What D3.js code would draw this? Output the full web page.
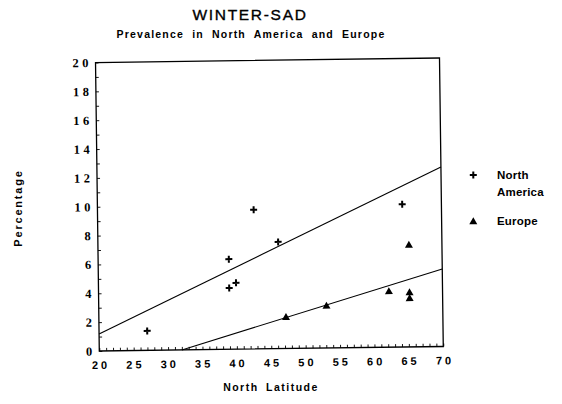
<!DOCTYPE html>
<html>
<head>
<meta charset="utf-8">
<script src="https://cdn.jsdelivr.net/npm/d3@7/dist/d3.min.js"></script>
<style>
  html, body { margin: 0; padding: 0; background: #fff; }
  svg { display: block; }
  text { fill: #000; }
</style>
</head>
<body>
<svg id="chart" width="562" height="404"></svg>
<script>
// ---- data ----
const naLat = [27, 39, 39, 40, 42.7, 46.2, 64.3];
const naPct = [1.35, 6.25, 4.25, 4.6, 9.65, 7.4, 9.9];
const euLat = [47.2, 53.1, 62.2, 65.2, 65.2, 65.2];
const euPct = [2.2, 2.95, 3.9, 7.1, 3.8, 3.4];
const naFitLat = [20, 70];
const naFitPct = [1.18, 12.45];
const euFitLat = [32, 70];
const euFitPct = [0, 5.37];
const xTicks = [20, 25, 30, 35, 40, 45, 50, 55, 60, 65, 70];
const yTicks = [0, 2, 4, 6, 8, 10, 12, 14, 16, 18, 20];
const title = "WINTER-SAD";
const subtitle = "Prevalence in North America and Europe";
const xTitle = "North Latitude";
const yTitle = "Percentage";
const legendLabels = [["North", "America"], ["Europe"]];

// ---- layout ----
const svg = d3.select("#chart");
const x0 = 99.3, x1 = 443.3, y0 = 351, y1 = 62.5;
const x = d3.scaleLinear().domain([20, 70]).range([x0, x1]);
const y = d3.scaleLinear().domain([0, 20]).range([y0, y1]);

// titles
svg.append("text").attr("x", 250).attr("y", 20).attr("text-anchor", "middle")
  .style("font-family", "Liberation Sans, Arial, sans-serif").style("font-size", "15.5px")
  .style("letter-spacing", "1.7px").style("stroke", "#000").style("stroke-width", 0.35)
  .text(title);
svg.append("text").attr("x", 251).attr("y", 37.5).attr("text-anchor", "middle")
  .style("font-family", "Liberation Sans, Arial, sans-serif").style("font-size", "10.5px")
  .style("font-weight", "bold").style("letter-spacing", "1.2px").style("word-spacing", "4px")
  .text(subtitle);

// plot group (slightly rotated like the scanned original)
const g = svg.append("g").attr("transform", `rotate(-0.75, ${x0}, ${y0})`);

// frame
g.append("rect").attr("x", x0).attr("y", y1).attr("width", x1 - x0).attr("height", y0 - y1)
  .attr("fill", "none").attr("stroke", "#000").attr("stroke-width", 1.3);

// minor ticks
const xAxis = d3.axisBottom(x).tickValues(d3.range(20, 71)).tickSize(-3).tickFormat("");
const gx = g.append("g").attr("transform", `translate(0,${y0})`).call(xAxis);
gx.select(".domain").remove();
gx.selectAll("line").attr("stroke", "#000").attr("stroke-width", 0.9);
const yAxis = d3.axisLeft(y).tickValues(d3.range(0, 21)).tickSize(-3).tickFormat("");
const gy = g.append("g").attr("transform", `translate(${x0},0)`).call(yAxis);
gy.select(".domain").remove();
gy.selectAll("line").attr("stroke", "#000").attr("stroke-width", 0.9);

// tick labels
g.selectAll(".xl").data(xTicks).join("text").attr("class", "xl")
  .attr("x", d => x(d) + 1.5).attr("y", y0 + 18).attr("text-anchor", "middle")
  .style("font-family", "Liberation Sans, Arial, sans-serif").style("font-size", "11px")
  .style("font-weight", "bold").style("letter-spacing", "3px").text(d => d);
g.selectAll(".yl").data(yTicks).join("text").attr("class", "yl")
  .attr("x", x0 - 3.5).attr("y", d => y(d) + 4.5).attr("text-anchor", "end")
  .style("font-family", "Liberation Serif, Times New Roman, serif").style("font-size", "12.5px")
  .style("font-weight", "bold").style("letter-spacing", "3.5px").text(d => d);

// fit lines
const line = d3.line().x(d => x(d[0])).y(d => y(d[1]));
g.append("path").datum(d3.zip(naFitLat, naFitPct)).attr("d", line)
  .attr("fill", "none").attr("stroke", "#000").attr("stroke-width", 1.1);
g.append("path").datum(d3.zip(euFitLat, euFitPct)).attr("d", line)
  .attr("fill", "none").attr("stroke", "#000").attr("stroke-width", 1.1);

// markers
const plus = "M-3.5,0H3.5M0,-3.5V3.5";
const tri = "M0,-3.8L4,3.2L-4,3.2Z";
g.selectAll(".na").data(d3.zip(naLat, naPct)).join("path").attr("class", "na")
  .attr("transform", d => `translate(${x(d[0])},${y(d[1])})`).attr("d", plus)
  .attr("stroke", "#000").attr("stroke-width", 2).attr("fill", "none");
g.selectAll(".eu").data(d3.zip(euLat, euPct)).join("path").attr("class", "eu")
  .attr("transform", d => `translate(${x(d[0])},${y(d[1])})`).attr("d", tri)
  .attr("fill", "#000");

// axis titles
svg.append("text").attr("x", 271).attr("y", 390.5).attr("text-anchor", "middle")
  .style("font-family", "Liberation Sans, Arial, sans-serif").style("font-size", "10.5px")
  .style("font-weight", "bold").style("letter-spacing", "1.5px").style("word-spacing", "3px")
  .text(xTitle);
svg.append("text").attr("transform", "translate(22,208) rotate(-90)").attr("text-anchor", "middle")
  .style("font-family", "Liberation Sans, Arial, sans-serif").style("font-size", "11px")
  .style("font-weight", "bold").style("letter-spacing", "1.8px").text(yTitle);

// legend
const lf = t => t.style("font-family", "Liberation Sans, Arial, sans-serif").style("font-size", "11.5px")
  .style("font-weight", "bold").style("letter-spacing", "0.2px");
svg.append("path").attr("transform", "translate(473.3,175)").attr("d", plus)
  .attr("stroke", "#000").attr("stroke-width", 2).attr("fill", "none");
lf(svg.append("text").attr("x", 497).attr("y", 178.5).text(legendLabels[0][0]));
lf(svg.append("text").attr("x", 497).attr("y", 196).text(legendLabels[0][1]));
svg.append("path").attr("transform", "translate(473.3,221)").attr("d", tri).attr("fill", "#000");
lf(svg.append("text").attr("x", 497).attr("y", 225).text(legendLabels[1][0]));
</script>
</body>
</html>
